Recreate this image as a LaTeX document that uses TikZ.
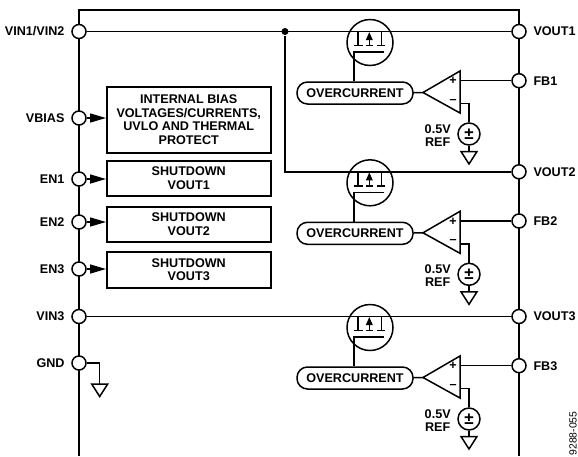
\documentclass[tikz,border=0pt]{standalone}
\usepackage{fontspec}
\setmainfont{Liberation Sans}
\usepackage{tikz}
\usetikzlibrary{arrows.meta, positioning, calc}
\newcommand{\gndsym}[1]{\draw (#1) -- ++(-8,0) -- ++(8,12.5) -- ++(8,-12.5) -- cycle;}

\begin{document}
\begin{tikzpicture}[
			x=1pt, y=-1pt, line width=1.5pt,
			txt/.style={font=\fontsize{12.6}{13.5}\selectfont\bfseries, inner sep=0pt},
			pindot/.style={circle, draw, fill=white, minimum size=14pt, inner sep=0pt},
			leftpin/.style={pindot, label={[txt, label distance=6pt]left:#1}},
			rightpin/.style={pindot, label={[txt, label distance=6pt]right:#1}},
			blockbox/.style={rectangle, draw, txt, align=center, minimum width=164pt, anchor=north west},
			pill/.style={rectangle, rounded corners=10.5pt, draw, txt, minimum width=116pt, minimum height=22pt},
			mosring/.style={circle, draw, minimum size=46pt, inner sep=0pt},
			srcring/.style={circle, draw, minimum size=22pt, inner sep=0pt, font=\fontsize{17}{17}\selectfont\bfseries},
			feed/.style={-{Triangle[length=16pt,width=9pt]}}
			]
			\useasboundingbox (0,0) rectangle (578,456);
			\coordinate (fbl) at (79,456);
			\coordinate (ftl) at (79,10);
			\coordinate (ftr) at (519,10);
			\coordinate (fbr) at (519,456);
			\draw (fbl) -- (ftl) -- (ftr) -- (fbr);

			\node[leftpin=VIN1/VIN2] (vin12) at (79,31.5) {};
			\node[leftpin=VBIAS] (vbias) at (79,118) {};
			\node[leftpin=EN1] (en1) at (79,179) {};
			\node[leftpin=EN2] (en2) at (79,222) {};
			\node[leftpin=EN3] (en3) at (79,269) {};
			\node[leftpin=VIN3] (vin3) at (79,316.5) {};
			\node[leftpin=GND] (gnd) at (79,363) {};

			\node[blockbox, minimum height=66pt] (bias) at (106,86) {INTERNAL BIAS\\VOLTAGES/CURRENTS,\\UVLO AND THERMAL\\PROTECT};
			\node[blockbox, minimum height=35pt] (sd1) at (106,160) {SHUTDOWN\\VOUT1};
			\node[blockbox, minimum height=35pt] (sd2) at (106,206) {SHUTDOWN\\VOUT2};
			\node[blockbox, minimum height=36pt] (sd3) at (106,251) {SHUTDOWN\\VOUT3};

			\draw[feed] (vbias) -- (bias.west |- vbias);
			\draw[feed] (en1) -- (sd1.west |- en1);
			\draw[feed] (en2) -- (sd2.west |- en2);
			\draw[feed] (en3) -- (sd3.west |- en3);

			\coordinate (gndcorner) at (99.7,363);
			\coordinate (gndtop) at (99.7,384);
			\draw (gnd) -- (gndcorner) -- (gndtop);
			\gndsym{gndtop}

			% one regulator channel
			\foreach \n/\dy in {1/0, 2/140.3, 3/285} {
				\begin{scope}[yshift=-\dy pt]
					\node[rightpin=VOUT\n] (vout\n) at (519,31.5) {};
					\node[rightpin=FB\n] (fb\n) at (519,80.7) {};
					\node[mosring] (mos\n) at (370,42.5) {};
					\node[pill] (oc\n) at (355,93) {OVERCURRENT};
					\node[srcring] (src\n) at (469,134) {±};
					\node[txt, align=center] (ref\n) at (437.7,135.5) {0.5V\\REF};
					\node[txt] (plus\n) at (453,81) {+};
					\node[txt] (minus\n) at (453,101.5) {–};

					\coordinate (tip\n) at (423,92.5);
					\coordinate (top\n) at (460,71);
					\coordinate (bot\n) at (460,113);
					\draw[line join=miter] (tip\n) -- (top\n) -- (bot\n) -- cycle;
					\draw (oc\n) -- (tip\n);
					\draw (top\n |- fb\n) -- (fb\n);
					\coordinate (minpin\n) at (460,103.5);
					\draw (minpin\n) -| (src\n);
					\coordinate (grd\n) at (469,151.5);
					\draw (src\n) -- (grd\n);
					\gndsym{grd\n}

					% pass transistor
					\coordinate (gatel\n) at (354,52);
					\coordinate (gater\n) at (384,52);
					\draw (gater\n) -- (gatel\n) -- (gatel\n |- oc\n.north);
					\coordinate (srct\n) at (358,31.5);
					\coordinate (srcb\n) at (358,45.5);
					\coordinate (drnt\n) at (381.7,31.5);
					\coordinate (drnb\n) at (381.7,45.5);
					\coordinate (bulkb\n) at (369.3,45.5);
					\coordinate (bulkt\n) at (369.3,32);
					\draw (srct\n) -- (srcb\n) ++(-4.3,0) -- ++(9,0);
					\draw (drnt\n) -- (drnb\n) ++(-4.3,0) -- ++(8,0);
					\draw[-{Triangle[length=8pt,width=6.5pt]}] (bulkb\n) ++(-3.5,0) -- ++(7,0) ++(-3.5,0) -- (bulkt\n);
				\end{scope}
			}

			\node[circle, fill, minimum size=7pt, inner sep=0pt] (tap) at (285,31.5) {};
			\draw (vin12) -- (vout1);
			\draw (tap) |- (vout2);
			\draw (vin3) -- (vout3);

			\node[rotate=90, font=\fontsize{10.4}{10.4}\selectfont, inner sep=0pt] (partno) at (573,433.5) {9288-055};
		\end{tikzpicture}
\end{document}
